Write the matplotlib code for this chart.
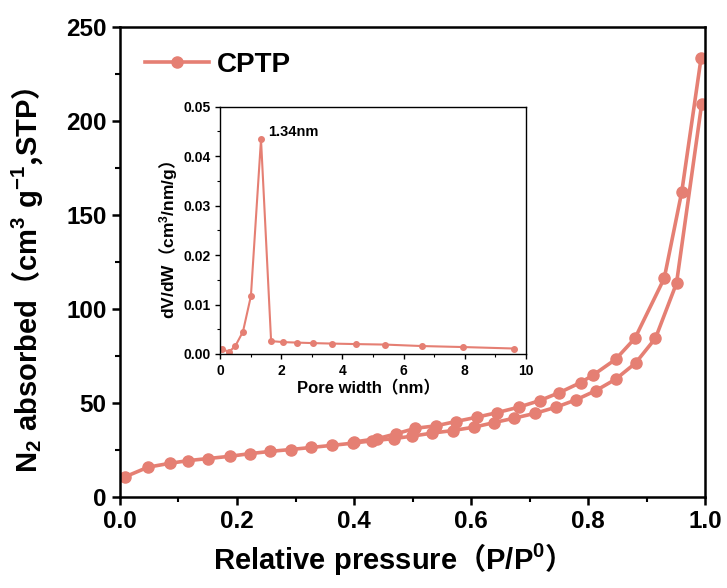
import numpy as np
import matplotlib
matplotlib.use('Agg')
import matplotlib.pyplot as plt
from matplotlib.ticker import MultipleLocator, FormatStrFormatter

plt.rcParams['font.family'] = ['Liberation Sans', 'Noto Sans CJK SC', 'DejaVu Sans']
plt.rcParams['font.weight'] = 'bold'
# math parts in Arial-like bold, plain parts (fullwidth brackets) in the CJK font
plt.rcParams['mathtext.fontset'] = 'custom'
plt.rcParams['mathtext.rm'] = 'Liberation Sans:bold'
plt.rcParams['mathtext.bf'] = 'Liberation Sans:bold'
plt.rcParams['mathtext.it'] = 'Liberation Sans:bold'
plt.rcParams['mathtext.default'] = 'bf'

##############################
# Data
ads_p = [0.009, 0.048, 0.086, 0.117, 0.151, 0.188, 0.222, 0.257, 0.292, 0.327,
         0.362, 0.399, 0.430, 0.468, 0.499, 0.533, 0.569, 0.605, 0.639, 0.674,
         0.710, 0.745, 0.779, 0.813, 0.847, 0.881, 0.915, 0.951, 0.994]
ads_v = [10.7, 15.8, 17.9, 19.3, 20.4, 21.6, 23.0, 24.2, 25.2, 26.3,
         27.4, 28.6, 29.8, 31.0, 32.3, 33.9, 35.3, 37.1, 39.5, 41.9,
         44.5, 47.7, 51.6, 56.5, 62.6, 71.2, 84.4, 113.7, 209.0]
des_p = [0.993, 0.960, 0.930, 0.880, 0.847, 0.809, 0.787, 0.751, 0.717, 0.681,
         0.644, 0.610, 0.574, 0.540, 0.505, 0.471, 0.440, 0.400]
des_v = [233.5, 162.4, 116.3, 84.4, 73.2, 64.9, 60.8, 55.5, 51.2, 47.7,
         44.8, 42.4, 40.1, 37.8, 36.5, 33.5, 31.0, 29.2]

pore_w = [0.05, 0.29, 0.50, 0.75, 1.01, 1.34, 1.67, 2.07, 2.51, 3.03,
          3.67, 4.43, 5.39, 6.61, 7.95, 9.62]
dvdw = [0.0011, 0.0004, 0.0016, 0.0045, 0.0117, 0.0434, 0.0026, 0.0024, 0.0023, 0.0022,
        0.0021, 0.0020, 0.0019, 0.0016, 0.0014, 0.0011]

COL = '#E57F73'
CJK = ['Noto Sans CJK SC']

##############################
# Main isotherm
fig = plt.figure(figsize=(7.27, 5.88), dpi=100)
ax = fig.add_axes([0.165, 0.155, 0.805, 0.799])

ax.plot(ads_p, ads_v, '-o', color=COL, linewidth=2.6, markersize=8, label='CPTP')
ax.plot(des_p, des_v, '-o', color=COL, linewidth=2.6, markersize=8, label='_nolegend_')

ax.set_xlim(0, 1.0)
ax.set_ylim(0, 250)
ax.xaxis.set_major_locator(MultipleLocator(0.2))
ax.xaxis.set_minor_locator(MultipleLocator(0.1))
ax.xaxis.set_major_formatter(FormatStrFormatter('%.1f'))
ax.yaxis.set_major_locator(MultipleLocator(50))
ax.yaxis.set_minor_locator(MultipleLocator(25))
ax.tick_params(which='major', direction='out', length=6, width=1.8, labelsize=17.5)
ax.tick_params(which='minor', direction='out', length=3.5, width=1.5)
for sp in ax.spines.values():
    sp.set_linewidth(1.8)

ax.set_xlabel(r'$\mathbf{Relative\ pressure}$（$\mathbf{P/P^0}$）',
              fontsize=21, fontweight='bold', family=CJK)
ax.xaxis.set_label_coords(0.453, -0.093)
ax.set_ylabel(r'$\mathbf{N_2\ absorbed}$（$\mathbf{cm^3\ g^{-1}}$,$\mathbf{STP}$）',
              fontsize=21, fontweight='bold', family=CJK)
ax.yaxis.set_label_coords(-0.128, 0.462)

leg = ax.legend(loc='upper left', frameon=False, handlelength=2.3, handletextpad=0.3,
                prop={'size': 20, 'weight': 'bold'}, borderaxespad=0.5)

##############################
# Inset: pore size distribution
ins = fig.add_axes([0.3026, 0.398, 0.421, 0.4206])
ins.plot(pore_w, dvdw, '-o', color=COL, linewidth=1.5, markersize=4)
ins.set_xlim(0, 10)
ins.set_ylim(0, 0.05)
ins.xaxis.set_major_locator(MultipleLocator(2))
ins.xaxis.set_minor_locator(MultipleLocator(1))
ins.xaxis.set_major_formatter(FormatStrFormatter('%d'))
ins.yaxis.set_major_locator(MultipleLocator(0.01))
ins.yaxis.set_minor_locator(MultipleLocator(0.005))
ins.yaxis.set_major_formatter(FormatStrFormatter('%.2f'))
ins.tick_params(which='major', direction='out', length=3.5, width=1.0, labelsize=10)
ins.tick_params(which='minor', direction='out', length=2, width=0.8)
for sp in ins.spines.values():
    sp.set_linewidth(1.0)
ins.set_xlabel('Pore width（nm）', fontsize=12, fontweight='bold')
ins.xaxis.set_label_coords(0.485, -0.105)
ins.set_ylabel(r'$\mathbf{dV/dW}$（$\mathbf{cm^3/nm/g}$）', fontsize=12.5,
               fontweight='bold', family=CJK)
ins.yaxis.set_label_coords(-0.13, 0.46)
ins.text(1.57, 0.0449, '1.34nm', fontsize=10.5, fontweight='bold', va='center', ha='left')

fig.savefig('out.png', dpi=100)
